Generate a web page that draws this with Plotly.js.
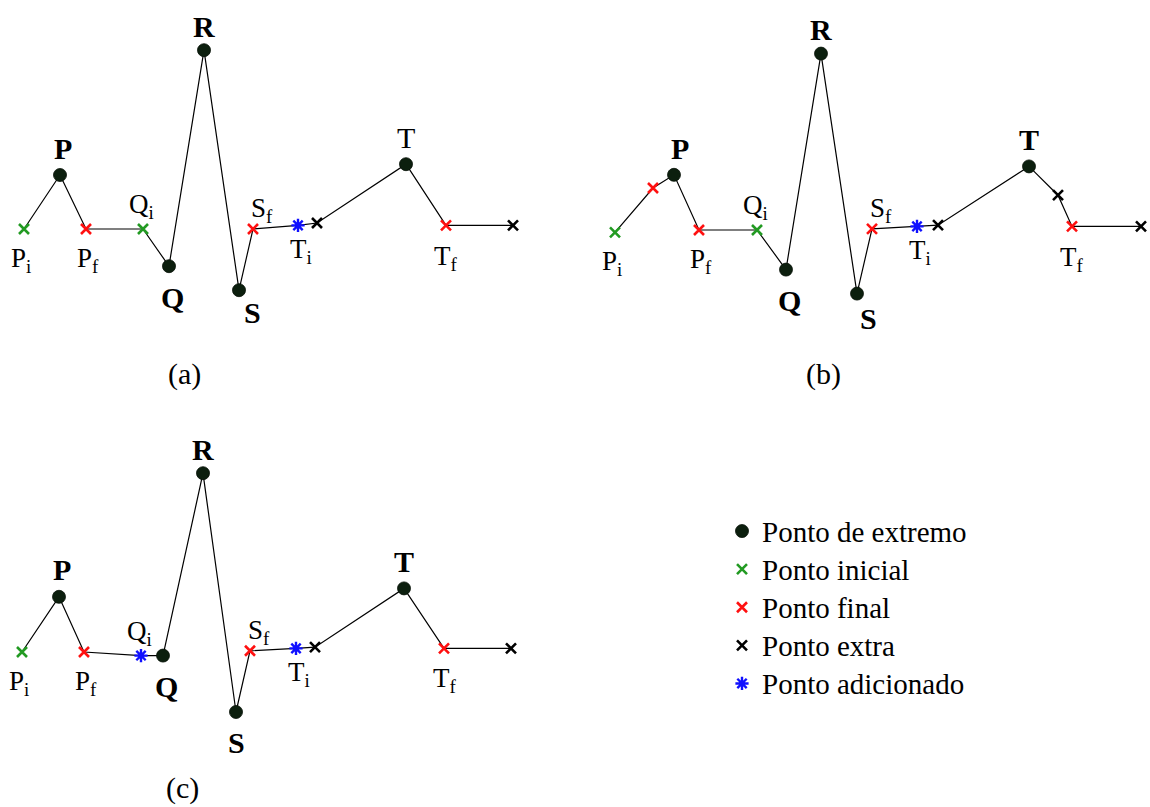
<!DOCTYPE html>
<html>
<head>
<meta charset="utf-8">
<script src="https://cdn.plot.ly/plotly-3.0.1.min.js"></script>
<style>
  html, body { margin: 0; padding: 0; background: #ffffff; }
  #chart { width: 1150px; height: 807px; }
</style>
</head>
<body>
<div id="chart"></div>
<script>
// ECG beat, panel (a): fiducial points in time (ms) and amplitude (mV)
const tA    = [48, 120, 172, 286, 338, 408, 478, 506, 596, 634, 812, 892, 1026];
const vA    = [0, 0.45, 0, 0, -0.31, 1.49, -0.51, 0, 0.03, 0.05, 0.54, 0.03, 0.03];
const kindA = ['ini', 'ext', 'fin', 'ini', 'ext', 'ext', 'ext', 'fin', 'add', 'extra', 'ext', 'fin', 'extra'];
const idA   = ['Pi', 'P', 'Pf', 'Qi', 'Q', 'R', 'S', 'Sf', 'Ti', '', 'T', 'Tf', ''];

// Panel (b)
const tB    = [70, 146, 188, 238, 354, 412, 482, 554, 584, 674, 716, 898, 956, 984, 1122];
const vB    = [-0.02, 0.35, 0.46, 0, 0, -0.33, 1.47, -0.53, 0.01, 0.03, 0.04, 0.53, 0.29, 0.03, 0.03];
const kindB = ['ini', 'fin', 'ext', 'fin', 'ini', 'ext', 'ext', 'ext', 'fin', 'add', 'extra', 'ext', 'extra', 'fin', 'extra'];
const idB   = ['Pi', '', 'P', 'Pf', 'Qi', 'Q', 'R', 'S', 'Sf', 'Ti', '', 'T', '', 'Tf', ''];

// Panel (c)
const tC    = [44, 118, 168, 282, 326, 406, 472, 500, 592, 630, 808, 888, 1022];
const vC    = [0, 0.46, 0, -0.03, -0.03, 1.49, -0.5, 0.01, 0.03, 0.04, 0.53, 0.03, 0.03];
const kindC = ['ini', 'ext', 'fin', 'add', 'ext', 'ext', 'ext', 'fin', 'add', 'extra', 'ext', 'fin', 'extra'];
const idC   = ['Pi', 'P', 'Pf', 'Qi', 'Q', 'R', 'S', 'Sf', 'Ti', '', 'T', 'Tf', ''];

// Legend entries, one per point type
const kinds      = ['ext', 'ini', 'fin', 'extra', 'add'];
const kindLabels = ['Ponto de extremo', 'Ponto inicial', 'Ponto final', 'Ponto extra', 'Ponto adicionado'];
const captions   = ['(a)', '(b)', '(c)'];

// ---- styling ----
const FONT = 'Liberation Serif, Times New Roman, serif';
const markerStyle = {
  ext:   { symbol: 'circle', size: 13, color: '#0c1f0e', line: { color: '#061006', width: 0.8 } },
  ini:   { symbol: 'x-thin-open', size: 10, color: '#229a22', line: { color: '#229a22', width: 2.6 } },
  fin:   { symbol: 'x-thin-open', size: 10, color: '#ff1010', line: { color: '#ff1010', width: 2.6 } },
  extra: { symbol: 'x-thin-open', size: 10, color: '#000000', line: { color: '#000000', width: 2.6 } },
  add:   { symbol: 'asterisk-open', size: 11, color: '#1010ff', line: { color: '#1010ff', width: 2.4 } }
};

// label offsets in screen pixels (dx right, dy down) from the point
const baseOffsets = {
  Pi: [-3, 31], P: [3, -27], Pf: [2, 31], Qi: [-2, -23], Q: [3, 31], R: [0, -24],
  S: [13, 22], Sf: [9, -19], Ti: [3, 26], T: [0, -27], Tf: [0, 33]
};
const panelOffsets = [
  {},
  { P: [6, -26], S: [11, 25] },
  { S: [0, 31], Tf: [1, 32] }
];
// panel (a) draws its T label in regular weight
const regularPeak = [['T'], [], []];

const panels = [
  { t: tA, v: vA, kind: kindA, id: idA, xa: 'x',  ya: 'y'  },
  { t: tB, v: vB, kind: kindB, id: idB, xa: 'x2', ya: 'y2' },
  { t: tC, v: vC, kind: kindC, id: idC, xa: 'x3', ya: 'y3' }
];

const traces = [];
const annotations = [];
const seen = {};

panels.forEach((p, pi) => {
  traces.push({
    type: 'scatter', mode: 'lines', x: p.t, y: p.v, xaxis: p.xa, yaxis: p.ya,
    line: { color: '#000000', width: 1.2 }, showlegend: false, hoverinfo: 'skip'
  });
  kinds.forEach((k, ki) => {
    const xs = [], ys = [];
    p.kind.forEach((kk, i) => { if (kk === k) { xs.push(p.t[i]); ys.push(p.v[i]); } });
    if (!xs.length) return;
    traces.push({
      type: 'scatter', mode: 'markers', x: xs, y: ys, xaxis: p.xa, yaxis: p.ya,
      // legend text drawn a little larger than the row height font
      name: '<span style="font-size:29px">' + kindLabels[ki] + '</span>',
      legendgroup: k, showlegend: !seen[k],
      marker: markerStyle[k], hoverinfo: 'skip', cliponaxis: false
    });
    seen[k] = true;
  });
  p.id.forEach((id, i) => {
    if (!id) return;
    const off = Object.assign({}, baseOffsets, panelOffsets[pi])[id];
    let text, size;
    if (id.length === 1) {
      text = regularPeak[pi].includes(id) ? id : '<b>' + id + '</b>';
      size = 30;
    } else {
      text = id[0] + '<sub>' + id.slice(1) + '</sub>';
      size = 27;
    }
    annotations.push({
      xref: p.xa, yref: p.ya, x: p.t[i], y: p.v[i], text: text, showarrow: false,
      xshift: off[0], yshift: -off[1], xanchor: 'center', yanchor: 'middle',
      font: { family: FONT, size: size, color: '#000000' }
    });
  });
});

// panel captions; the bottom one sits on the page edge
const capPos = [[184, 374, 'middle'], [823, 374, 'middle'], [182, 807, 'bottom']];
captions.forEach((c, i) => {
  annotations.push({
    xref: 'paper', yref: 'paper', x: capPos[i][0] / 1150, y: 1 - capPos[i][1] / 807,
    text: c, showarrow: false, xanchor: 'center', yanchor: capPos[i][2],
    font: { family: FONT, size: 30, color: '#000000' }
  });
});

const hidden = { visible: false, fixedrange: true };
const layout = {
  width: 1150, height: 807,
  margin: { l: 0, r: 0, t: 0, b: 0 },
  paper_bgcolor: '#ffffff', plot_bgcolor: '#ffffff',
  xaxis:  Object.assign({ domain: [0, 0.5], range: [0, 1150], anchor: 'y' }, hidden),
  yaxis:  Object.assign({ domain: [0.50434, 1], range: [-1.425, 1.9083], anchor: 'x' }, hidden),
  xaxis2: Object.assign({ domain: [0.50435, 1], range: [0, 1140], anchor: 'y2' }, hidden),
  yaxis2: Object.assign({ domain: [0.50434, 1], range: [-1.4167, 1.9167], anchor: 'x2' }, hidden),
  xaxis3: Object.assign({ domain: [0, 0.5], range: [0, 1150], anchor: 'y3' }, hidden),
  yaxis3: Object.assign({ domain: [0, 0.47955], range: [-1.2917, 1.9333], anchor: 'x3' }, hidden),
  showlegend: true,
  legend: {
    x: 722 / 1150, y: 1 - 507 / 807, xanchor: 'left', yanchor: 'top',
    bgcolor: 'rgba(0,0,0,0)', borderwidth: 0, tracegroupgap: 0,
    font: { family: FONT, size: 27, color: '#000000' },
    traceorder: 'normal'
  },
  annotations: annotations
};

Plotly.newPlot('chart', traces, layout, { staticPlot: true, displayModeBar: false });
</script>
</body>
</html>
